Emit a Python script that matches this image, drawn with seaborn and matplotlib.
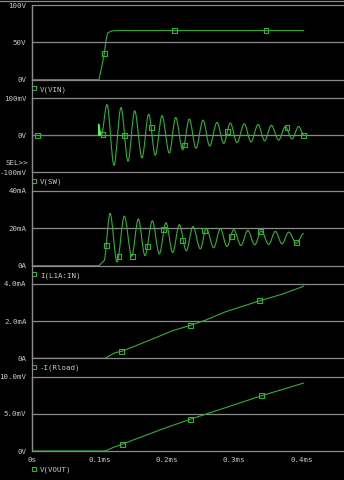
import numpy as np
import pandas as pd
import matplotlib
matplotlib.use("Agg")
import matplotlib.pyplot as plt
from matplotlib.path import Path
from matplotlib.patches import PathPatch, Polygon
from matplotlib.lines import Line2D
import seaborn as sns

# ---------------- data (time in ms) ----------------
x_ticks = [0.0, 0.1, 0.2, 0.3, 0.4]
x_tick_labels = ["0s", "0.1ms", "0.2ms", "0.3ms", "0.4ms"]

# V(VIN) [V]
vin_t = [0.0, 0.0995, 0.1035, 0.1074, 0.1099, 0.1124, 0.1184, 0.1258, 0.4036]
vin_v = [0.0, 0.0, 17.0, 35.0, 53.0, 62.5, 65.3, 65.7, 65.7]
vin_mk_t = [0.1074, 0.2114, 0.3476]
vin_mk_v = [35.0, 65.7, 65.7]

# V(SW) [mV]
sw_flat_t = [0.0, 0.0988]
sw_flat_v = [0.0, 0.0]
sw_glitch_t = [0.0988, 0.0991, 0.1000, 0.1010, 0.1022, 0.1029]
sw_glitch_v = [0.0, 31.0, 20.0, 12.0, 3.0, 0.0]
sw_ext_t = [0.1029, 0.1114, 0.1218, 0.1322, 0.1426, 0.1525, 0.1634, 0.1733,
            0.1831, 0.1931, 0.2039, 0.2134, 0.2238, 0.2336, 0.2436, 0.2540,
            0.2639, 0.2748, 0.2847, 0.2945, 0.3045, 0.3153, 0.3253, 0.3357,
            0.3456, 0.3554, 0.3664, 0.3762, 0.3862, 0.3961, 0.4036]
sw_ext_v = [0.0, 83, -81, 75, -70, 66, -61, 57, -54, 53, -48, 48, -39, 44, -35,
            41, -29, 35, -22, 33, -20, 31, -18, 29, -15, 27, -13, 24, -10, 24, 1]
sw_mk_t = [0.0079, 0.1055, 0.1371, 0.1772, 0.2262, 0.2907, 0.3788, 0.4036]
sw_mk_v = [0.0, 2.0, 0.0, 22.0, -26.0, 10.0, 22.0, 0.0]

# I(L1A:IN) [mA]
il_flat_t = [0.0, 0.0995, 0.1069]
il_flat_v = [0.0, 0.0, 2.7]
il_ext_t = [0.1069, 0.1159, 0.1263, 0.1371, 0.1481, 0.1579, 0.1678, 0.1787,
            0.1891, 0.1990, 0.2090, 0.2188, 0.2292, 0.2391, 0.2500, 0.2589,
            0.2699, 0.2797, 0.2896, 0.2996, 0.3104, 0.3204, 0.3308, 0.3406,
            0.3516, 0.3614, 0.3713, 0.3813, 0.3926, 0.4036]
il_ext_v = [2.7, 28, 2, 26.5, 5, 25, 5.4, 24, 6.3, 23, 7, 22, 8, 21, 9, 20,
            9.6, 19.8, 10.3, 19.3, 10.8, 18.9, 11.2, 18.6, 11.4, 18.4, 11.7,
            18, 12, 17.3]
il_mk_t = [0.1110, 0.1292, 0.1490, 0.1719, 0.1950, 0.2238, 0.2565, 0.2960,
           0.3391, 0.3926]
il_mk_v = [11, 5, 5, 10.4, 19.3, 13.4, 19, 15.7, 18.4, 12.4]

# -I(Rload) [mA]
ir_t = [0.0, 0.1084, 0.1233, 0.1332, 0.1505, 0.1653, 0.1852, 0.2080, 0.2351,
        0.2574, 0.2871, 0.3376, 0.3713, 0.4036]
ir_v = [0.0, 0.0, 0.30, 0.38, 0.62, 0.84, 1.13, 1.48, 1.77, 2.05, 2.50, 3.09,
        3.45, 3.88]
ir_mk_t = [0.1332, 0.2351, 0.3376]
ir_mk_v = [0.38, 1.77, 3.09]

# V(VOUT) [mV]
vo_t = [0.0, 0.1084, 0.1233, 0.1341, 0.1505, 0.1704, 0.1901, 0.2080, 0.2351,
        0.2674, 0.3406, 0.4036]
vo_v = [0.0, 0.0, 0.58, 0.90, 1.49, 2.16, 2.84, 3.42, 4.28, 5.23, 7.43, 9.15]
vo_mk_t = [0.1341, 0.2351, 0.3406]
vo_mk_v = [0.9, 4.28, 7.43]

panel_names = ["V(VIN)", "V(SW)", "I(L1A:IN)", "-I(Rload)", "V(VOUT)"]
panel_ylims = [(0, 100), (-100, 100), (0, 40), (0, 4), (0, 10)]
panel_yticks = [[0, 50, 100], [-100, 0, 100], [0, 20, 40], [0, 2, 4], [0, 5, 10]]
panel_ylabels = [["0V", "50V", "100V"], ["-100mV", "0V", "100mV"],
                 ["0A", "20mA", "40mA"], ["0A", "2.0mA", "4.0mA"],
                 ["0V", "5.0mV", "10.0mV"]]

# ---------------- style ----------------
GREEN = "#36ad36"
BRIGHT = "#4dff4d"
GRID = "#8a8a8a"
TEXT = "#c8c8c8"
FS = 5.4

sns.set_style("dark", {"axes.facecolor": "black", "figure.facecolor": "black"})
plt.rcParams["font.family"] = ["DejaVu Sans Mono", "DejaVu Sans"]

W, H = 344, 480
fig = plt.figure(figsize=(W / 100, H / 100), dpi=100)
fig.patch.set_facecolor("black")

px_panels = [(5, 79.7), (98.3, 172.3), (191, 265.7), (284, 358.3), (376.7, 451)]
x_left, x_right = 32, 344
XMAX = (x_right - x_left) / 673.25


def smooth_path(ts, vs):
    verts = [(ts[0], vs[0])]
    codes = [Path.MOVETO]
    for i in range(len(ts) - 1):
        t0, v0, t1, v1 = ts[i], vs[i], ts[i + 1], vs[i + 1]
        dt = t1 - t0
        verts += [(t0 + dt / 3, v0), (t1 - dt / 3, v1), (t1, v1)]
        codes += [Path.CURVE4] * 3
    return Path(verts, codes)


axes = []
for i, (top, bot) in enumerate(px_panels):
    ax = fig.add_axes([x_left / W, 1 - bot / H, (x_right - x_left) / W, (bot - top) / H])
    ax.set_facecolor("black")
    ax.set_xlim(0, XMAX)
    ax.set_ylim(*panel_ylims[i])
    ax.spines["right"].set_visible(False)
    for s in ["top", "bottom", "left"]:
        ax.spines[s].set_visible(True)
        ax.spines[s].set_color(GRID)
        ax.spines[s].set_linewidth(0.9)
    ax.axhline(panel_yticks[i][1], color=GRID, lw=0.9, zorder=1)
    ax.set_yticks(panel_yticks[i])
    ax.set_yticklabels(panel_ylabels[i])
    ax.tick_params(axis="y", colors=GRID, labelcolor=TEXT, length=3, width=0.8,
                   labelsize=FS, pad=1)
    ax.grid(False)
    axes.append(ax)

mk_kw = dict(marker="s", s=12, facecolor="none", edgecolor=GREEN, linewidth=0.8,
             legend=False, zorder=5)
line_kw = dict(color=GREEN, linewidth=0.8, legend=False, zorder=3)

# Panel 1
ax = axes[0]
sns.lineplot(x=vin_t, y=vin_v, ax=ax, **line_kw)
sns.scatterplot(x=vin_mk_t, y=vin_mk_v, ax=ax, **mk_kw)

# Panel 2
ax = axes[1]
sns.lineplot(x=sw_flat_t, y=sw_flat_v, ax=ax, **line_kw)
ax.add_patch(Polygon(np.column_stack([sw_glitch_t, sw_glitch_v]), closed=True,
                     facecolor=BRIGHT, edgecolor=BRIGHT, lw=0.8, zorder=4))
ax.add_patch(PathPatch(smooth_path(sw_ext_t, sw_ext_v), facecolor="none",
                       edgecolor=GREEN, lw=0.8, zorder=3))
sns.scatterplot(x=sw_mk_t, y=sw_mk_v, ax=ax, **mk_kw)

# Panel 3
ax = axes[2]
sns.lineplot(x=il_flat_t, y=il_flat_v, ax=ax, **line_kw)
ax.add_patch(PathPatch(smooth_path(il_ext_t, il_ext_v), facecolor="none",
                       edgecolor=GREEN, lw=0.8, zorder=3))
sns.scatterplot(x=il_mk_t, y=il_mk_v, ax=ax, **mk_kw)

# Panel 4
ax = axes[3]
sns.lineplot(x=ir_t, y=ir_v, ax=ax, **line_kw)
sns.scatterplot(x=ir_mk_t, y=ir_mk_v, ax=ax, **mk_kw)

# Panel 5
ax = axes[4]
sns.lineplot(x=vo_t, y=vo_v, ax=ax, **line_kw)
sns.scatterplot(x=vo_mk_t, y=vo_mk_v, ax=ax, **mk_kw)

for i, ax in enumerate(axes):
    ax.set_xlim(0, XMAX)
    ax.set_ylim(*panel_ylims[i])
    ax.set_xlabel("")
    ax.set_ylabel("")
    if i < 4:
        ax.set_xticks([])
    else:
        ax.set_xticks(x_ticks)
        ax.set_xticklabels(x_tick_labels)
        ax.tick_params(axis="x", colors=GRID, labelcolor=TEXT, length=2.5,
                       width=0.8, labelsize=FS, pad=2, direction="out")

# legend entries (marker + name) below each panel
for i, ax in enumerate(axes):
    top, bot = px_panels[i]
    yl = bot + (18.3 if i == 4 else 9.5)
    handle = Line2D([], [], marker="s", ls="none", mfc="none", mec=GREEN,
                    ms=3.4, mew=0.8)
    ax.legend([handle], [panel_names[i]], loc="center left",
              bbox_to_anchor=((31 - x_left) / (x_right - x_left),
                              (bot - yl) / (bot - top)),
              frameon=False, fontsize=FS, handlelength=0.67,
              handletextpad=0.55, borderpad=0, borderaxespad=0,
              labelcolor=TEXT)

fig.text(28 / W, 1 - 163 / H, "SEL>>", color=TEXT, fontsize=FS, ha="right",
         va="center")

# continuous left axis line and top frame line
fig.add_artist(Line2D([x_left / W, x_left / W], [1 - 5 / H, 1 - 451 / H],
                      color=GRID, lw=0.9, transform=fig.transFigure))
fig.add_artist(Line2D([0, 1], [1 - 0.7 / H, 1 - 0.7 / H],
                      color=GRID, lw=0.9, transform=fig.transFigure))

fig.savefig("out.png", dpi=100, facecolor="black")
